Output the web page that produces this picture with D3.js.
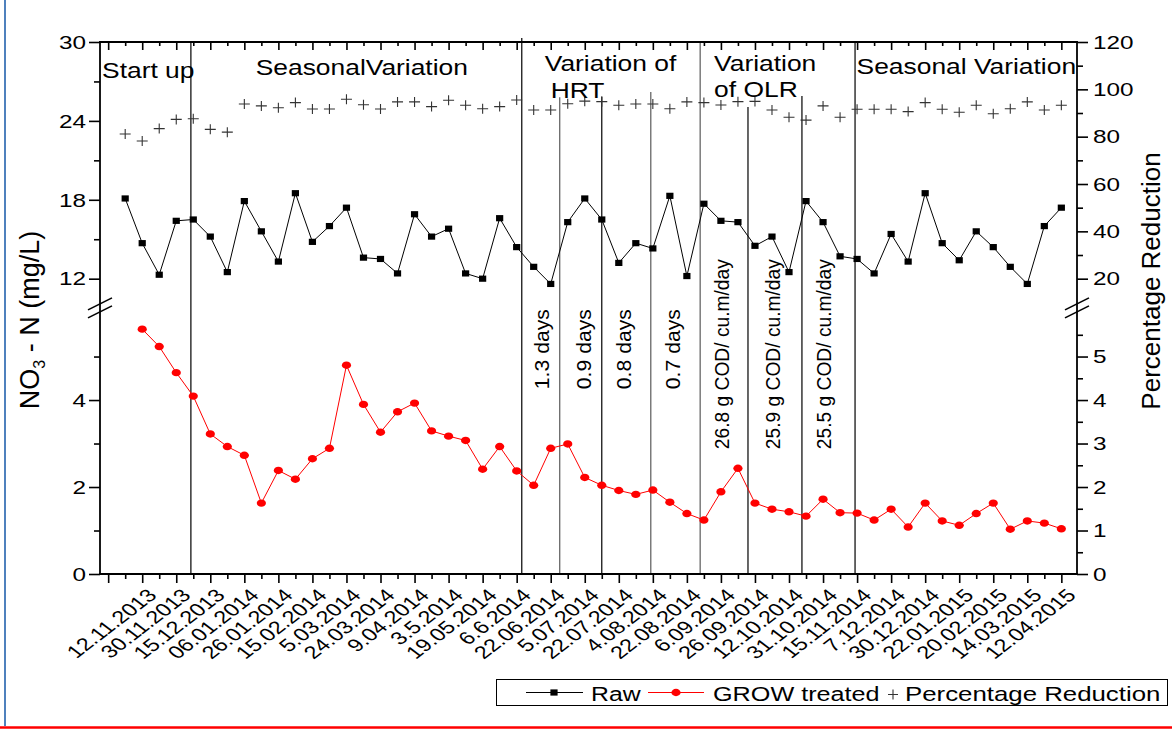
<!DOCTYPE html>
<html><head><meta charset="utf-8">
<script src="https://cdn.jsdelivr.net/npm/d3@7"></script>
<style>
body{margin:0;background:#fff;}
svg{display:block;}
text{font-family:"Liberation Sans",Arial,Helvetica,sans-serif;fill:#000;}
</style>
</head><body>
<svg id="c" width="1172" height="731"></svg>
<script>
// ---------------- data ----------------
const dateLabels = ["12.11.2013","30.11.2013","15.12.2013","06.01.2014","26.01.2014","15.02.2014","5.03.2014","24.03.2014","9.04.2014","3.5.2014","19.05.2014","6.6.2014","22.06.2014","5.07.2014","22.07.2014","4.08.2014","22.08.2014","6.09.2014","26.09.2014","12.10.2014","31.10.2014","15.11.2014","7.12.2014","30.12.2014","22.01.2015","20.02.2015","14.03.2015","12.04.2015"];
const labelIndex = dateLabels.map((d,i)=>2+2*i);

const rawValues = [18.1,14.7,12.3,16.4,16.5,15.2,12.5,17.9,15.6,13.3,18.5,14.8,16.0,17.4,13.6,13.5,12.4,16.9,15.2,15.8,12.4,12.0,16.6,14.4,12.9,11.6,16.3,18.1,16.5,13.2,14.7,14.3,18.3,12.2,17.7,16.4,16.3,14.5,15.2,12.5,17.9,16.3,13.7,13.5,12.4,15.4,13.3,18.5,14.7,13.4,15.6,14.4,12.9,11.6,16.0,17.4];
const rawStart = 1;

const treatedValues = [5.63,5.23,4.63,4.09,3.22,2.93,2.73,1.63,2.38,2.18,2.65,2.89,4.80,3.90,3.26,3.73,3.93,3.29,3.17,3.07,2.41,2.93,2.37,2.04,2.89,2.99,2.22,2.04,1.92,1.83,1.93,1.65,1.39,1.24,1.89,2.43,1.63,1.49,1.43,1.33,1.72,1.41,1.40,1.24,1.49,1.08,1.63,1.22,1.12,1.39,1.63,1.03,1.22,1.17,1.04];
const treatedStart = 2;

const percentValues = [81.1,78.2,83.4,87.3,87.6,83.1,81.9,93.8,93.0,92.2,94.4,91.7,91.7,95.8,93.5,91.7,94.7,94.7,92.7,95.4,93.3,91.8,92.7,95.5,91.3,91.3,93.9,95.0,94.8,93.3,93.8,93.8,91.8,94.7,94.4,93.4,94.8,94.9,91.3,88.2,87.0,93.0,88.2,91.6,91.6,91.6,90.6,94.4,91.6,90.3,93.3,89.7,91.8,94.7,91.3,93.3];
const percentStart = 1;

const leftUpperMajor = [12,18,24,30];
const leftUpperMinor = [15,21,27];
const leftLowerMajor = [0,2,4];
const leftLowerMinor = [1,3,5];
const rightUpperMajor = [20,40,60,80,100,120];
const rightUpperMinor = [30,50,70,90,110];
const rightLowerMajor = [0,1,2,3,4,5];
const rightLowerMinor = [0.5,1.5,2.5,3.5,4.5,5.5];

// phase dividers: x position (sample index), top (left-axis value), colour class
const dividerAt  = [4.86, 24.3, 26.53, 29.0, 31.88, 34.78, 37.59, 40.76, 43.88];
const dividerTop = [30, 30.3, 25.8, 25.85, 26.2, 30, 25.05, 25.9, 30];
const dividerGrey= [false,false,true,false,true,true,false,false,false];

const phaseTitles = [
  {t:"Start up", i:-0.36, v:27.26},
  {t:"SeasonalVariation", i:8.67, v:27.49},
  {t:"Variation of", i:25.65, v:27.79},
  {t:"HRT", i:26.0, v:25.74},
  {t:"Variation", i:35.6, v:27.79},
  {t:"of OLR", i:35.6, v:25.82},
  {t:"Seasonal Variation", i:43.97, v:27.6}
];
const hrtLabels = [
  {t:"1.3 days", i:25.88},{t:"0.9 days", i:28.35},{t:"0.8 days", i:30.7},{t:"0.7 days", i:33.58}
];
const olrLabels = [
  {t:"26.8 g COD/ cu.m/day", i:36.46},{t:"25.9 g COD/ cu.m/day", i:39.45},{t:"25.5 g COD/ cu.m/day", i:42.45}
];

// ---------------- scales ----------------
const svg = d3.select("#c");
const L=100, R=1077, T=42, B=574;
const x = d3.scaleLinear().domain([-0.48, 56.92]).range([L, R]);
const yUpper = d3.scaleLinear().domain([10.5, 30]).range([298.4, T]);
const yLower = d3.scaleLinear().domain([0, 5.9]).range([B, 317.4]);
const yPct = d3.scaleLinear().domain([20, 120]).range([yUpper(12), yUpper(30)]);
const fmt = d => String(d);

// page decoration
svg.append("line").attr("x1",5).attr("x2",5).attr("y1",0).attr("y2",726)
  .attr("stroke","#4f81bd").attr("stroke-width",2);
svg.append("line").attr("x1",0).attr("x2",1172).attr("y1",727.5).attr("y2",727.5)
  .attr("stroke","#ff0000").attr("stroke-width",2.5);

// ---------------- dividers ----------------
svg.append("g").selectAll("line").data(dividerAt).join("line")
  .attr("x1",d=>x(d)).attr("x2",d=>x(d))
  .attr("y1",(d,i)=>yUpper(dividerTop[i])).attr("y2",B)
  .attr("stroke",(d,i)=>dividerGrey[i]?"#5a5a5a":"#000")
  .attr("stroke-width",1.2);

// ---------------- axes ----------------
function styleAxis(g){ g.select(".domain").remove(); g.selectAll("line").attr("stroke","#000").attr("stroke-width",1.6); }

const gl1 = svg.append("g").attr("transform",`translate(${L},0)`)
  .call(d3.axisLeft(yUpper).tickValues(leftUpperMajor).tickSize(11).tickPadding(0).tickFormat(fmt));
const gl2 = svg.append("g").attr("transform",`translate(${L},0)`)
  .call(d3.axisLeft(yUpper).tickValues(leftUpperMinor).tickSize(6).tickFormat(""));
const gl3 = svg.append("g").attr("transform",`translate(${L},0)`)
  .call(d3.axisLeft(yLower).tickValues(leftLowerMajor).tickSize(11).tickPadding(0).tickFormat(fmt));
const gl4 = svg.append("g").attr("transform",`translate(${L},0)`)
  .call(d3.axisLeft(yLower).tickValues(leftLowerMinor).tickSize(6).tickFormat(""));
const gr1 = svg.append("g").attr("transform",`translate(${R},0)`)
  .call(d3.axisRight(yPct).tickValues(rightUpperMajor).tickSize(11).tickPadding(0).tickFormat(fmt));
const gr2 = svg.append("g").attr("transform",`translate(${R},0)`)
  .call(d3.axisRight(yPct).tickValues(rightUpperMinor).tickSize(6).tickFormat(""));
const gr3 = svg.append("g").attr("transform",`translate(${R},0)`)
  .call(d3.axisRight(yLower).tickValues(rightLowerMajor).tickSize(11).tickPadding(0).tickFormat(fmt));
const gr4 = svg.append("g").attr("transform",`translate(${R},0)`)
  .call(d3.axisRight(yLower).tickValues(rightLowerMinor).tickSize(6).tickFormat(""));
[gl1,gl2,gl3,gl4,gr1,gr2,gr3,gr4].forEach(styleAxis);
[gl1,gl3].forEach(g=>g.selectAll("text").attr("x",0).attr("dy","0.35em")
  .attr("font-size",18).attr("text-anchor","end").attr("transform","translate(-14,0) scale(1.35,1)"));
[gr1,gr3].forEach(g=>g.selectAll("text").attr("x",0).attr("dy","0.35em")
  .attr("font-size",18).attr("text-anchor","start").attr("transform","translate(16,0) scale(1.35,1)"));

// x axis (bottom, outward) and top (inward)
const majorIdx = d3.range(0,57,2), minorIdx = d3.range(1,57,2);
const gb1 = svg.append("g").attr("transform",`translate(0,${B})`)
  .call(d3.axisBottom(x).tickValues(majorIdx).tickSize(9).tickFormat(""));
const gb2 = svg.append("g").attr("transform",`translate(0,${B})`)
  .call(d3.axisBottom(x).tickValues(minorIdx).tickSize(5).tickFormat(""));
const gt1 = svg.append("g").attr("transform",`translate(0,${T})`)
  .call(d3.axisBottom(x).tickValues(majorIdx).tickSize(8).tickFormat(""));
const gt2 = svg.append("g").attr("transform",`translate(0,${T})`)
  .call(d3.axisBottom(x).tickValues(minorIdx).tickSize(4).tickFormat(""));
[gb1,gb2,gt1,gt2].forEach(styleAxis);

svg.append("g").selectAll("text").data(dateLabels).join("text")
  .attr("text-anchor","end").attr("dy","0.35em").attr("font-size",18)
  .attr("transform",(d,i)=>`translate(${x(labelIndex[i])+10},592) scale(1.3,1) rotate(-45)`)
  .text(d=>d);

// frame
const frame = svg.append("g").attr("stroke","#000").attr("stroke-width",1.8).attr("fill","none");
frame.append("line").attr("x1",L).attr("x2",L).attr("y1",T).attr("y2",B);
frame.append("line").attr("x1",R).attr("x2",R).attr("y1",T).attr("y2",B);
frame.append("line").attr("x1",L-1).attr("x2",R+1).attr("y1",T).attr("y2",T);
frame.append("line").attr("x1",L-1).attr("x2",R+1).attr("y1",B).attr("y2",B);

// break marks
const breakY = (yUpper.range()[0] + yLower.range()[1]) / 2;
[L,R].forEach(ax=>{
  [-4,4].forEach(o=>{
    svg.append("line").attr("x1",ax-12).attr("y1",breakY+o+6).attr("x2",ax+12).attr("y2",breakY+o-6)
      .attr("stroke","#000").attr("stroke-width",1.6);
  });
});

// ---------------- series ----------------
const rawPts = rawValues.map((v,k)=>[rawStart+k, v]);
const trtPts = treatedValues.map((v,k)=>[treatedStart+k, v]);
const pctPts = percentValues.map((v,k)=>[percentStart+k, v]);

svg.append("path").datum(rawPts)
  .attr("d", d3.line().x(d=>x(d[0])).y(d=>yUpper(d[1])))
  .attr("fill","none").attr("stroke","#000").attr("stroke-width",1);
svg.append("g").selectAll("rect").data(rawPts).join("rect")
  .attr("x",d=>x(d[0])-3.6).attr("y",d=>yUpper(d[1])-3.1)
  .attr("width",7.2).attr("height",6.2).attr("fill","#000");

svg.append("path").datum(trtPts)
  .attr("d", d3.line().x(d=>x(d[0])).y(d=>yLower(d[1])))
  .attr("fill","none").attr("stroke","#ff0000").attr("stroke-width",1);
svg.append("g").selectAll("ellipse").data(trtPts).join("ellipse")
  .attr("cx",d=>x(d[0])).attr("cy",d=>yLower(d[1]))
  .attr("rx",4.6).attr("ry",3.7).attr("fill","#ff0000");

svg.append("g").selectAll("path").data(pctPts).join("path")
  .attr("d",d=>`M${x(d[0])-5.5},${yPct(d[1])}h11M${x(d[0])},${yPct(d[1])-5}v10`)
  .attr("stroke","#333").attr("stroke-width",1.1).attr("fill","none");

// ---------------- annotations ----------------
svg.append("g").selectAll("text").data(phaseTitles).join("text")
  .attr("font-size",22)
  .attr("transform",d=>`translate(${x(d.i)},${yUpper(d.v)}) scale(1.2,1)`)
  .text(d=>d.t);

const hrtBase = yLower(4.25);
svg.append("g").selectAll("text").data(hrtLabels).join("text")
  .attr("font-size",20).attr("textLength",80).attr("lengthAdjust","spacingAndGlyphs")
  .attr("transform",d=>`translate(${x(d.i)},${hrtBase}) rotate(-90)`)
  .text(d=>d.t);
const olrBase = yLower(2.87);
svg.append("g").selectAll("text").data(olrLabels).join("text")
  .attr("font-size",20).attr("textLength",190).attr("lengthAdjust","spacingAndGlyphs")
  .attr("transform",d=>`translate(${x(d.i)},${olrBase}) rotate(-90)`)
  .text(d=>d.t);

// axis titles
const lt = svg.append("text").attr("text-anchor","middle").attr("font-size",27)
  .attr("transform","translate(39,320) rotate(-90)");
lt.append("tspan").text("NO");
lt.append("tspan").attr("font-size",16).attr("dy",6).text("3");
lt.append("tspan").attr("dy",-6).text(" - N (mg/L)");

svg.append("text").attr("text-anchor","middle").attr("font-size",26)
  .attr("transform","translate(1160,281) rotate(-90)")
  .text("Percentage Reduction");

// ---------------- legend ----------------
const lg = svg.append("g");
lg.append("rect").attr("x",496.5).attr("y",679.5).attr("width",671).attr("height",26)
  .attr("fill","#fff").attr("stroke","#000").attr("stroke-width",1);
const ly = 692.5;
lg.append("line").attr("x1",526).attr("x2",583).attr("y1",ly).attr("y2",ly).attr("stroke","#000");
lg.append("rect").attr("x",554-3.6).attr("y",ly-3.1).attr("width",7.2).attr("height",6.2).attr("fill","#000");
lg.append("text").attr("font-size",21).attr("transform",`translate(591,700.5) scale(1.18,1)`).text("Raw");
lg.append("line").attr("x1",648).attr("x2",704).attr("y1",ly).attr("y2",ly).attr("stroke","#ff0000");
lg.append("ellipse").attr("cx",676).attr("cy",ly).attr("rx",4.6).attr("ry",3.7).attr("fill","#ff0000");
lg.append("text").attr("font-size",21).attr("transform",`translate(713,700.5) scale(1.2,1)`).text("GROW treated");
lg.append("path").attr("d",`M888,${ly+2}h10M893,${ly-3}v10`).attr("stroke","#333").attr("stroke-width",1.1);
lg.append("text").attr("font-size",21).attr("transform",`translate(905,700.5) scale(1.23,1)`).text("Percentage Reduction");
</script>
</body></html>
